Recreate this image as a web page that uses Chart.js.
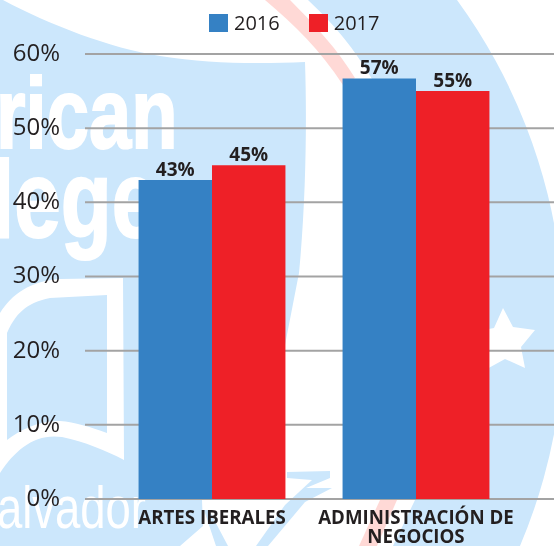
<!DOCTYPE html>
<html>
<head>
<meta charset="utf-8">
<title>Artes Iberales / Administración de Negocios</title>
<script src="https://cdn.jsdelivr.net/npm/chart.js@4/dist/chart.umd.min.js"></script>
<style>
  html, body { margin: 0; padding: 0; background: #fff; overflow: hidden; }
  #wrap { position: relative; width: 554px; height: 546px; overflow: hidden; }
  #wrap svg, #wrap canvas { position: absolute; left: 0; top: 0; }
  #legend { position: absolute; left: 209px; top: 9px; display: flex; gap: 29px; font: 20px "Open Sans", sans-serif; color: #231f20; line-height: 27px; }
  #legend div { display: flex; align-items: center; gap: 6px; }
  #legend span.box { display: block; width: 19px; height: 18px; }
</style>
</head>
<body>
<div id="wrap">
  <!-- faded logo behind the chart -->
  <svg width="554" height="546" viewBox="0 0 554 546">
    <path fill="#cce7fc" d="M0 0 L3 0 C50 25 110 48 160 56 C210 64 260 64 305 62 C307 120 306 200 299 273 L285 345 L285 499 L202 500 L203 526 L180 546 L0 546 Z"/>
    <path fill="#cce7fc" d="M308 0 L457 0 A558 558 0 0 1 520 546 L393 546 L415 500 L372 499 L372 79 C355 50 335 25 308 0 Z"/>
    <path fill="#ffd9d6" d="M265 0 L290 0 C315 25 338 50 355 78 L343 85 C320 50 295 25 265 0 Z"/>
    <path fill="#ffd9d6" d="M380 500 L397 500 L377 546 L359 546 Z"/>
    <path fill="#cce7fc" d="M287 472 L330 471 L330 478 L306 488 L332 488 L305 502 L268 546 L256 546 L285 505 L312 480 L287 478 Z"/>
    <path fill="#cce7fc" d="M204 510 L209 510 L228 546 L216 546 Z"/>
    <path fill="#fff" fill-rule="evenodd" d="M0 313 C12 294 30 281 60 279 L123 278 L124 460 C105 450 85 442 62 437 C35 433 15 450 0 473 Z M7 333 C15 315 25 303 50 298 L107 295 L107 433 C90 427 75 422 60 421 C40 420 20 430 7 440 Z"/>
    <path fill="#fff" d="M503 308 L513 327 L535 330 L521 347 L525 368 L505 359 L485 370 L489 348 L473 332 L494 328 Z"/>
    <g fill="#fff" stroke="#fff" font-family="Liberation Sans">
      <text transform="translate(-4 148) scale(.76 1)" font-weight="700" font-size="100" stroke-width="2">rican</text>
      <text transform="translate(-9 237) scale(.76 1)" font-weight="700" font-size="110" stroke-width="2">lege</text>
      <text transform="translate(-3 528) scale(.77 1)" font-size="59" stroke-width="0">alvador</text>
    </g>
  </svg>
  <canvas id="chart" width="554" height="546"></canvas>
  <div id="legend"></div>
</div>
<script>
const categories = ['ARTES IBERALES', ['ADMINISTRACIÓN DE', 'NEGOCIOS']]
const seriesNames = ['2016', '2017']
const values2016 = [43, 56.7]
const values2017 = [45, 55]
const printed2016 = ['43%', '57%']
const printed2017 = ['45%', '55%']
const yTicks = [0, 10, 20, 30, 40, 50, 60]

const BLUE = '#3581c4'
const RED = '#ee2027'
const INK = '#231f20'
const GRID = '#a3a3a3'

// Grid runs past the plot area on both sides, so draw it ourselves from the y scale
const wideGrid = {
  id: 'wideGrid',
  beforeDatasetsDraw(chart) {
    const { ctx, scales } = chart
    ctx.save()
    ctx.strokeStyle = GRID
    ctx.lineWidth = 2
    yTicks.forEach(tick => {
      const y = scales.y.getPixelForValue(tick)
      ctx.beginPath()
      ctx.moveTo(85, y)
      ctx.lineTo(554, y)
      ctx.stroke()
    })
    ctx.restore()
  }
}

const barLabels = {
  id: 'barLabels',
  afterDatasetsDraw(chart) {
    const { ctx } = chart
    const printed = [printed2016, printed2017]
    ctx.save()
    ctx.font = 'bold 19px "Open Sans", sans-serif'
    ctx.fillStyle = INK
    ctx.textAlign = 'center'
    ctx.textBaseline = 'alphabetic'
    chart.data.datasets.forEach((dataset, d) => {
      chart.getDatasetMeta(d).data.forEach((bar, i) => {
        ctx.fillText(printed[d][i], bar.x, bar.y - 4)
      })
    })
    ctx.restore()
  }
}

const chart = new Chart(document.getElementById('chart'), {
  type: 'bar',
  data: {
    labels: categories,
    datasets: [
      { label: seriesNames[0], data: values2016, backgroundColor: BLUE },
      { label: seriesNames[1], data: values2017, backgroundColor: RED }
    ]
  },
  options: {
    responsive: false,
    animation: false,
    layout: { padding: { top: 54, right: 36, bottom: 0, left: 0 } },
    datasets: { bar: { barPercentage: 1, categoryPercentage: 0.72 } },
    scales: {
      x: {
        afterFit(scale) { scale.height = 47 },
        grid: { display: false },
        border: { display: false },
        ticks: {
          color: INK,
          padding: 2,
          maxRotation: 0,
          font: { family: '"Open Sans", sans-serif', size: 18.7, weight: 'bold', lineHeight: 1.02 }
        }
      },
      y: {
        min: 0,
        max: 60,
        afterFit(scale) { scale.width = 110 },
        grid: { display: false },
        border: { display: false },
        ticks: {
          stepSize: 10,
          padding: 42,
          color: INK,
          font: { family: '"Open Sans", sans-serif', size: 24, lineHeight: 0.1 },
          callback: value => value + '%'
        }
      }
    },
    plugins: {
      legend: { display: false },
      tooltip: { enabled: false }
    }
  },
  plugins: [wideGrid, barLabels]
})

// HTML legend, the swatch-to-text gap is tighter than the built-in one allows
const legendEl = document.getElementById('legend')
chart.data.datasets.forEach(dataset => {
  const item = document.createElement('div')
  const box = document.createElement('span')
  box.className = 'box'
  box.style.background = dataset.backgroundColor
  item.appendChild(box)
  item.appendChild(document.createTextNode(dataset.label))
  legendEl.appendChild(item)
})
</script>
</body>
</html>
